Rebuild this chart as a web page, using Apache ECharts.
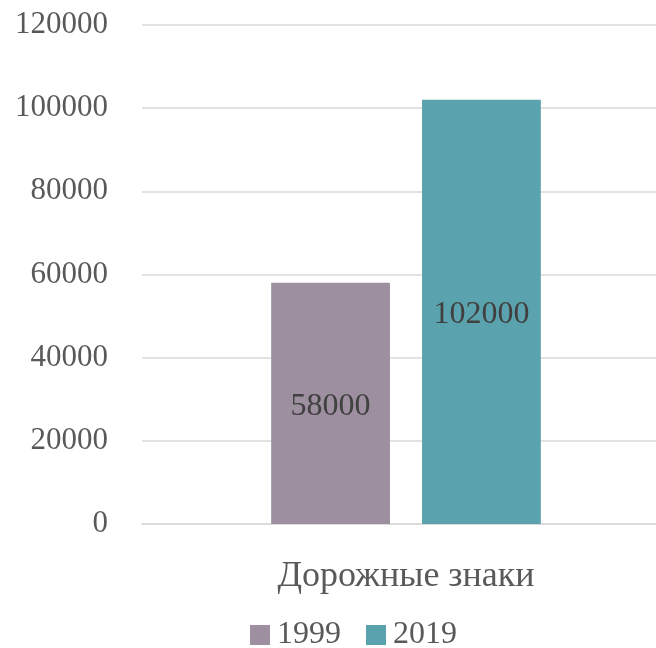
<!DOCTYPE html>
<html>
<head>
<meta charset="utf-8">
<script src="https://cdn.jsdelivr.net/npm/echarts@6/dist/echarts.min.js"></script>
<style>
  html, body { margin: 0; padding: 0; background: #fff; overflow: hidden; }
  /* the plot area runs past the right edge of the window, like the original crop */
  #chart { width: 670px; height: 648px; }
</style>
</head>
<body>
<div id="chart"></div>
<script>
const categories = ['Дорожные знаки']
const seriesNames = ['1999', '2019']
const values1999 = [58000]
const values2019 = [102000]
const colors = ['#9d8f9f', '#5aa2ae']

const font = "'Liberation Serif', 'DejaVu Serif', serif"
const textColor = '#595959'

const chart = echarts.init(document.getElementById('chart'))

const barLabel = {
  show: true,
  position: 'inside',
  offset: [0, 3],
  color: '#404040',
  fontFamily: font,
  fontSize: 32
}

chart.setOption({
  animation: false,
  textStyle: { fontFamily: font },
  grid: { left: 142, right: 0, top: 25, bottom: 124 },
  legend: {
    top: 614,
    left: 245,
    itemWidth: 20,
    itemHeight: 20,
    itemGap: 25,
    icon: 'rect',
    textStyle: { color: textColor, fontFamily: font, fontSize: 32, padding: [0, 0, 0, 2] },
    data: seriesNames
  },
  xAxis: {
    type: 'category',
    data: categories,
    axisLine: { lineStyle: { color: '#d9d9d9', width: 1.5 } },
    axisTick: { show: false },
    axisLabel: { color: textColor, fontFamily: font, fontSize: 36, margin: 35 }
  },
  yAxis: {
    type: 'value',
    min: 0,
    max: 120000,
    interval: 20000,
    axisLine: { show: false },
    axisTick: { show: false },
    splitLine: { lineStyle: { color: '#d9d9d9', width: 1.5 } },
    axisLabel: {
      color: textColor, fontFamily: font, fontSize: 31, margin: 34,
      formatter: v => String(v)
    }
  },
  series: [
    {
      name: seriesNames[0],
      type: 'bar',
      data: values1999,
      barWidth: '22.5%',
      barGap: '27%',
      itemStyle: { color: colors[0] },
      label: barLabel
    },
    {
      name: seriesNames[1],
      type: 'bar',
      data: values2019,
      barWidth: '22.5%',
      barGap: '27%',
      itemStyle: { color: colors[1] },
      label: barLabel
    }
  ]
})
</script>
</body>
</html>
